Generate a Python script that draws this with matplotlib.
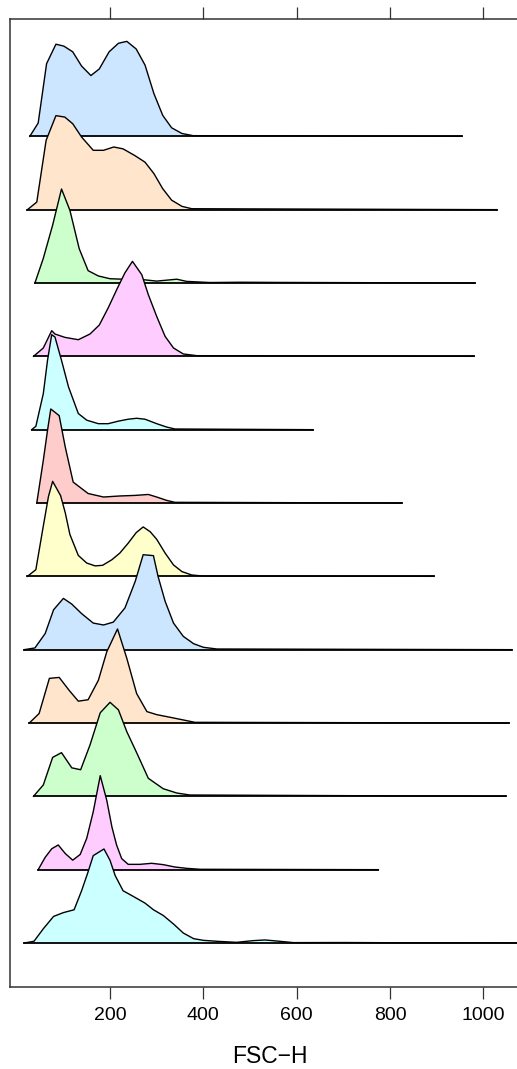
import matplotlib.pyplot as plt
import numpy as np

plt.rcParams['font.family'] = ['Liberation Sans', 'DejaVu Sans']

# FSC-H grid and relative density for each sample, top row first
x1 = [28, 46, 64, 84, 101, 120, 139, 159, 177, 198, 218, 236, 256, 275, 294, 313, 332, 354, 378]
h1 = [0, 0.14, 0.765, 0.97, 0.95, 0.89, 0.74, 0.64, 0.71, 0.89, 0.98, 1.0, 0.92, 0.75, 0.45, 0.22, 0.09, 0.03, 0.007]
end1 = 954

x2 = [23, 43, 63, 84, 103, 120, 139, 164, 186, 208, 228, 253, 275, 294, 313, 332, 354, 375]
h2 = [0, 0.08, 0.73, 0.99, 0.975, 0.905, 0.765, 0.625, 0.625, 0.66, 0.64, 0.57, 0.50, 0.38, 0.22, 0.10, 0.035, 0.01]
end2 = 1029

x3 = [39, 57, 77, 96, 114, 134, 153, 175, 200, 228, 271, 300, 343, 364, 414, 480, 560]
h3 = [0, 0.26, 0.61, 0.99, 0.765, 0.36, 0.13, 0.074, 0.045, 0.04, 0.035, 0.02, 0.04, 0.017, 0.005, 0.008, 0.006]
end3 = 982

x4 = [36, 57, 75, 82, 103, 132, 157, 177, 196, 216, 232, 248, 268, 282, 300, 318, 336, 357, 386]
h4 = [0, 0.088, 0.27, 0.235, 0.2, 0.175, 0.235, 0.33, 0.51, 0.72, 0.88, 1.0, 0.86, 0.65, 0.42, 0.21, 0.088, 0.025, 0.007]
end4 = 980

x5 = [32, 41, 57, 66, 75, 82, 96, 111, 132, 150, 175, 196, 218, 239, 257, 275, 300, 321, 339]
h5 = [0, 0.035, 0.38, 0.73, 1.0, 0.975, 0.73, 0.45, 0.17, 0.1, 0.063, 0.063, 0.09, 0.11, 0.12, 0.11, 0.063, 0.028, 0.007]
end5 = 635

x6 = [43, 57, 66, 73, 91, 104, 121, 153, 186, 221, 254, 282, 300, 321, 339]
h6 = [0, 0.45, 0.765, 0.99, 0.92, 0.59, 0.22, 0.1, 0.063, 0.074, 0.08, 0.09, 0.063, 0.028, 0.007]
end6 = 825

x7 = [23, 41, 57, 68, 77, 94, 104, 114, 132, 150, 168, 184, 204, 221, 239, 256, 271, 286, 300, 318, 336, 354, 375, 400]
h7 = [0, 0.07, 0.53, 0.84, 1.0, 0.85, 0.67, 0.44, 0.22, 0.14, 0.11, 0.116, 0.175, 0.245, 0.35, 0.46, 0.52, 0.47, 0.39, 0.245, 0.12, 0.05, 0.014, 0.003]
end7 = 894

x8 = [16, 39, 61, 79, 100, 118, 139, 164, 186, 207, 232, 254, 271, 293, 303, 318, 336, 357, 379, 400, 429]
h8 = [0, 0.018, 0.17, 0.42, 0.54, 0.48, 0.38, 0.28, 0.26, 0.29, 0.44, 0.72, 1.0, 0.99, 0.77, 0.51, 0.28, 0.14, 0.063, 0.025, 0.007]
end8 = 1061

x9 = [27, 48, 70, 91, 113, 132, 153, 175, 193, 216, 236, 257, 279, 300, 329, 357, 382]
h9 = [0, 0.1, 0.47, 0.48, 0.34, 0.23, 0.245, 0.45, 0.75, 0.99, 0.68, 0.31, 0.12, 0.088, 0.06, 0.032, 0.007]
end9 = 1055

x10 = [36, 57, 77, 96, 118, 137, 157, 179, 200, 218, 236, 257, 282, 314, 343, 371]
h10 = [0, 0.12, 0.41, 0.46, 0.3, 0.28, 0.54, 0.88, 0.99, 0.91, 0.68, 0.46, 0.19, 0.08, 0.035, 0.014]
end10 = 1048

x11 = [46, 61, 75, 89, 104, 120, 136, 150, 164, 179, 193, 204, 214, 225, 239, 264, 289, 314, 339, 364, 393]
h11 = [0, 0.13, 0.22, 0.26, 0.17, 0.1, 0.16, 0.33, 0.61, 0.99, 0.73, 0.45, 0.26, 0.116, 0.056, 0.056, 0.067, 0.053, 0.028, 0.014, 0.004]
end11 = 775

x12 = [16, 37, 57, 79, 100, 123, 139, 153, 164, 187, 200, 211, 228, 250, 275, 293, 314, 336, 357, 379, 400, 429, 471, 507, 532, 557, 593, 700, 850, 1000]
h12 = [0, 0.018, 0.15, 0.28, 0.32, 0.35, 0.55, 0.75, 0.92, 0.99, 0.87, 0.71, 0.55, 0.49, 0.42, 0.35, 0.29, 0.2, 0.105, 0.046, 0.028, 0.018, 0.007, 0.025, 0.032, 0.021, 0.004, 0.005, 0.002, 0.003]
end12 = 1100

xs = [x1, x2, x3, x4, x5, x6, x7, x8, x9, x10, x11, x12]
hs = [h1, h2, h3, h4, h5, h6, h7, h8, h9, h10, h11, h12]
ends = [end1, end2, end3, end4, end5, end6, end7, end8, end9, end10, end11, end12]

# lattice superpose.polygon colours, recycled from the bottom row up
palette = ['#CCFFFF', '#FFCCFF', '#CCFFCC', '#FFE5CC', '#CCE6FF', '#FFFFCC', '#FFCCCC']

xticks = [200, 400, 600, 800, 1000]

fig = plt.figure(figsize=(5.17, 10.69), dpi=100)
ax = fig.add_axes([10 / 517, 82 / 1069, 520 / 517, 968 / 1069])

n = len(xs)
scale = 1.295  # peak height in row units
for i in range(n):
    base = n - 1 - i
    col = palette[base % len(palette)]
    x = np.array(xs[i] + [ends[i]], dtype=float)
    y = base + scale * np.array(hs[i] + [0.0])
    px = np.concatenate([x, [x[-1], x[0]]])
    py = np.concatenate([y, [base, base]])
    ax.fill(px, py, facecolor=col, edgecolor='none', zorder=2 + 2 * i)
    ax.plot(x, y, color='black', lw=1.0, zorder=3 + 2 * i)
    ax.plot([x[0], x[-1]], [base, base], color='black', lw=1.3, zorder=3 + 2 * i)

ax.set_xlim(-14.4, 1100)
ax.set_ylim(-0.6, 12.6)
ax.set_xticks(xticks)
ax.set_yticks([])
ax.tick_params(axis='x', direction='out', length=8.6, width=0.9, top=True,
               labeltop=False, labelsize=14, pad=6, color='#333333')
for s in ['left', 'top', 'bottom']:
    ax.spines[s].set_color('#333333')
    ax.spines[s].set_linewidth(1.1)
ax.spines['right'].set_visible(False)
ax.set_xlabel('FSC\u2212H', fontsize=16.5, labelpad=15)

fig.savefig('out.png', dpi=100)
